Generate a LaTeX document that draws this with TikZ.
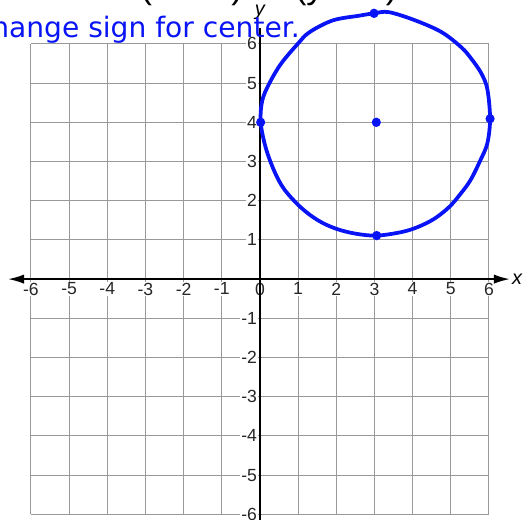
\documentclass[tikz,border=0pt]{standalone}
\usepackage{fontspec}
\setmainfont{Liberation Sans}
\newfontfamily\handfont{DejaVu Sans}
\usetikzlibrary{arrows.meta}
\definecolor{penblue}{RGB}{8,20,245}

\begin{document}
\begin{tikzpicture}[x=1.145cm, y=1.176cm, every node/.style={font=\fontsize{15}{18}\selectfont}, >={Latex[length=4.8mm,width=2.8mm]},
	gridline/.style={gray!80, line width=0.8pt},
	ticklabel/.style={fill=white, inner sep=1pt, text=black!85},
	pen/.style={penblue, line width=3.2pt, line cap=round, line join=round}]
	\useasboundingbox (-6.81,-6.12) rectangle (7.05,7.12);
	% grid and tick labels
	\foreach \k in {-6,...,6} {
		\draw[gridline] (\k,-6) -- (\k,6);
		\draw[gridline] (-6,\k) -- (6,\k);
		\node[ticklabel, anchor=north] (xl\k) at (\k,-0.06) {\k};
	}
	\foreach \k in {-6,...,-1,1,2,...,6}
		\node[ticklabel, anchor=east] (yl\k) at (-0.04,\k) {\k};
	% axes
	\draw[<->, line width=1.6pt] (-6.6,0) -- (6.55,0) node[right, inner sep=1pt, font=\fontsize{17}{18}\selectfont\itshape\rmfamily] (xlab) {x};
	\draw[line width=1pt] (0,-6.15) -- (0,6.4);
	\node[font=\fontsize{17}{18}\selectfont\itshape\rmfamily] (ylab) at (0.0,6.8) {y};
	% handwritten work
	\node[anchor=base west, inner sep=0pt, font=\fontsize{30}{32}\selectfont] (ex) at (-6.68,7.15) {EX 3};
	\node[anchor=base west, inner sep=0pt, font=\fontsize{30}{32}\selectfont] (eqn) at (-3.14,7.15) {(x $-$ 3)$^2$ + (y $-$ 4)$^2$ = 9};
	\node[anchor=base east, inner sep=0pt, text=penblue, font=\handfont\fontsize{24}{25}\selectfont] (note) at (1.05,6.17) {Change sign for center.};
	\draw[pen] plot[smooth cycle, tension=0.55] coordinates {(2.99,6.78) (3.38,6.81) (4.07,6.60) (4.76,6.30) (5.28,5.91) (5.54,5.62) (5.8,5.25) (5.96,4.84) (6.03,4.09) (5.96,3.47) (5.78,3.04) (5.52,2.53) (5.26,2.18) (4.96,1.84) (4.57,1.54) (4.14,1.33) (3.71,1.20) (3.06,1.11) (2.5,1.16) (1.98,1.29) (1.52,1.50) (1.07,1.83) (0.63,2.30) (0.37,2.77) (0.15,3.36) (0.02,4.0) (0.06,4.55) (0.24,4.98) (0.55,5.49) (0.99,6.0) (1.30,6.30) (1.91,6.60) (2.60,6.72)};
	\foreach \p in {(2.99,6.78),(6.03,4.09),(3.06,1.11),(0.02,4.0),(3.05,4.0)}
		\fill[penblue] \p circle (0.12);
\end{tikzpicture}
\end{document}
